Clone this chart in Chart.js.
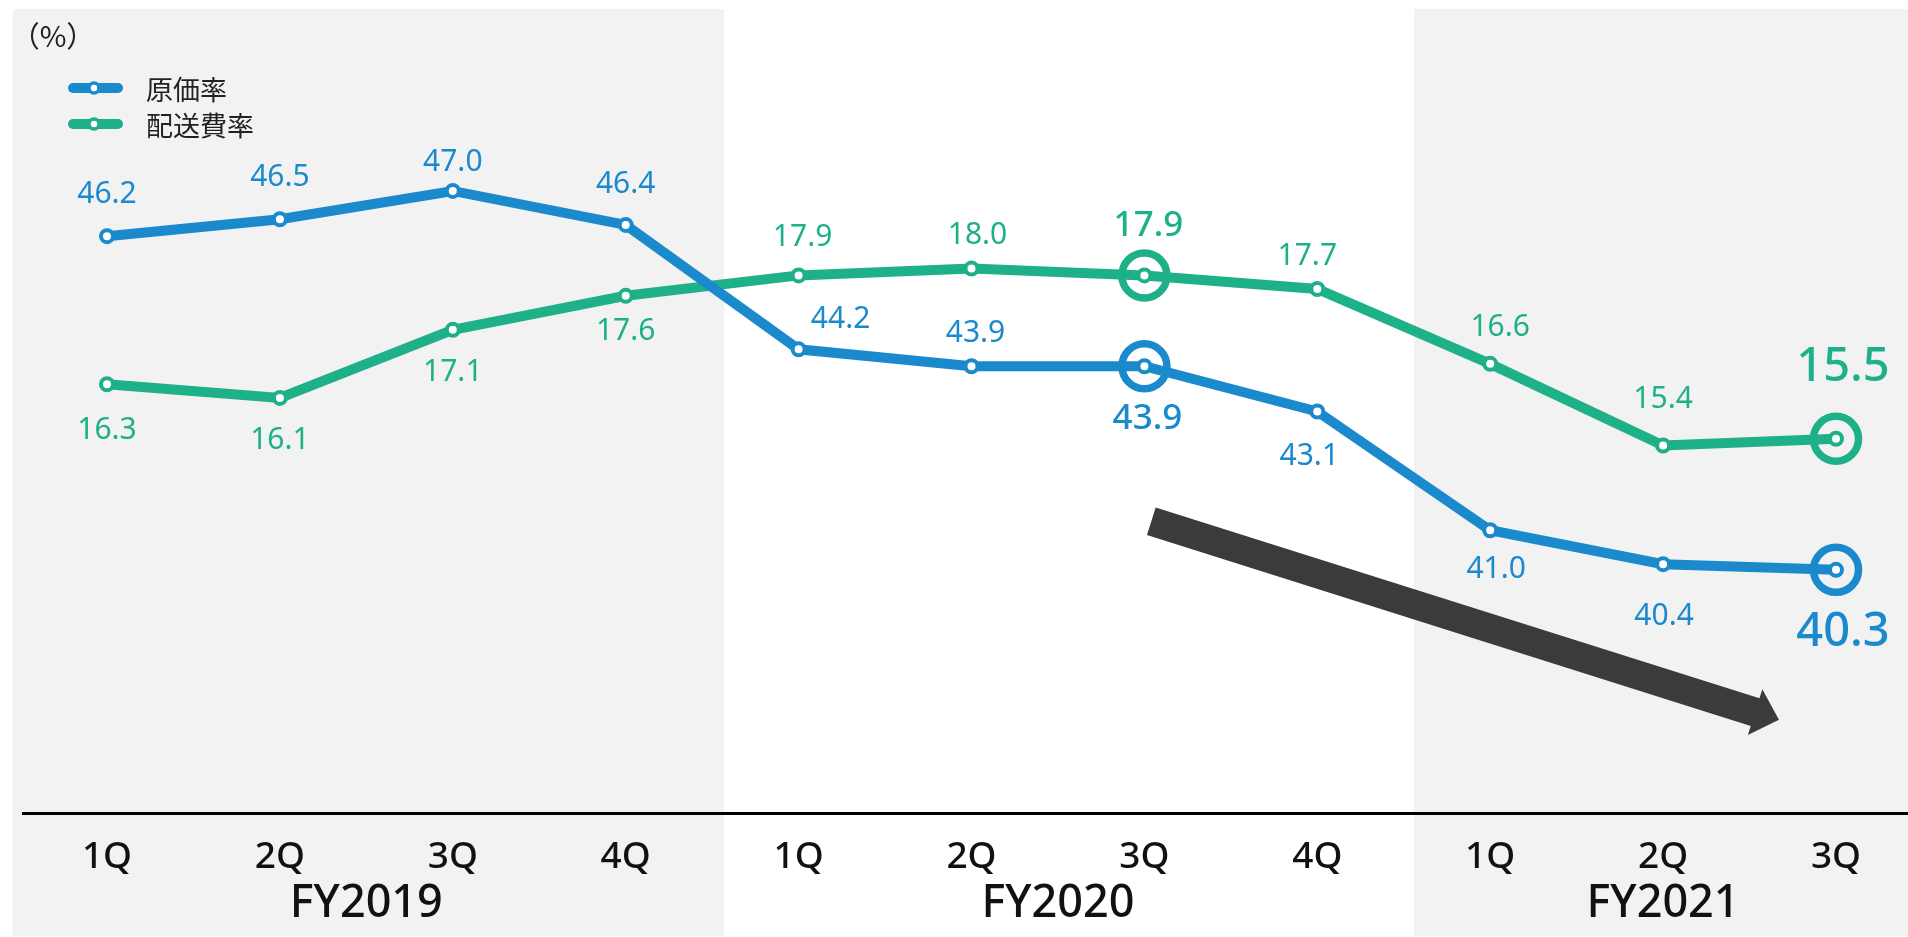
<!DOCTYPE html>
<html lang="ja">
<head>
<meta charset="utf-8">
<title>原価率・配送費率の推移</title>
<script src="https://cdn.jsdelivr.net/npm/chart.js@4.4.1/dist/chart.umd.min.js"></script>
<style>
  html, body { margin: 0; padding: 0; background: #fff; }
  #wrap { width: 1908px; height: 937px; }
  canvas { display: block; }
</style>
</head>
<body>
<div id="wrap"><canvas id="ratio-chart" width="1908" height="937"></canvas></div>
<script>
// 四半期ラベル
const quarters = ['1Q', '2Q', '3Q', '4Q', '1Q', '2Q', '3Q', '4Q', '1Q', '2Q', '3Q'];
// 会計年度と、その年度に含まれる四半期の範囲
const fiscalYears = ['FY2019', 'FY2020', 'FY2021'];
const fiscalYearFirst = [0, 4, 8];
const fiscalYearLast = [3, 7, 10];
// 原価率 (%)
const costRate = [46.2, 46.5, 47.0, 46.4, 44.2, 43.9, 43.9, 43.1, 41.0, 40.4, 40.3];
// 配送費率 (%)
const shippingRate = [16.3, 16.1, 17.1, 17.6, 17.9, 18.0, 17.9, 17.7, 16.6, 15.4, 15.5];
// 丸で囲んで強調する四半期
const highlightIndex = [6, 10];

// ---- 見た目の設定 ----
const BLUE = 'rgb(27, 138, 204)';
const GREEN = 'rgb(30, 176, 137)';
const TEXT = '#111';
const NUM_FONT = '"Noto Sans", "Open Sans", sans-serif';
const JP_FONT = '"Noto Sans CJK JP", "Noto Sans", sans-serif';

// 数値ラベルの位置（点からのずれ px）と文字サイズ
const costLabelDx = [0, 0, 0, 0, 42, 4, 3, -8, 6, 1, 7];
const costLabelDy = [-42, -42, -29, -40, -30, -33, 53, 45, 39, 52, 63];
const shipLabelDx = [0, 0, 0, 0, 4, 6, 4, -10, 10, 0, 7];
const shipLabelDy = [46, 43, 43, 36, -38, -33, -49, -33, -36, -46, -71];
const labelSize = [30, 30, 30, 30, 30, 30, 35, 30, 30, 30, 47];

// 背景の網掛け（x 軸の値で指定）
const shadedBands = [
  { from: -0.545, to: 3.57 },
  { from: 7.56, to: null }
];

// 下降トレンドの矢印（x 軸の値と原価率軸の値で指定）
const trendArrow = { fromX: 6.04, fromY: 41.16, toX: 9.67, toY: 37.65 };

// 背景の網掛けと横軸の線
const backdropPlugin = {
  id: 'backdrop',
  beforeDraw(chart) {
    const { ctx, chartArea, scales: { x } } = chart;
    ctx.save();
    ctx.fillStyle = '#f2f2f2';
    shadedBands.forEach(b => {
      const left = x.getPixelForValue(b.from);
      const right = b.to === null ? chart.width : x.getPixelForValue(b.to);
      ctx.fillRect(left, 9, right - left, chart.height - 10);
    });
    ctx.strokeStyle = '#000';
    ctx.lineWidth = 3;
    ctx.beginPath();
    ctx.moveTo(22, chartArea.bottom + 0.5);
    ctx.lineTo(chart.width, chartArea.bottom + 0.5);
    ctx.stroke();
    ctx.restore();
  }
};

// 矢印
const arrowPlugin = {
  id: 'trendArrow',
  beforeDatasetsDraw(chart) {
    const { ctx, scales: { x, yCost } } = chart;
    const x0 = x.getPixelForValue(trendArrow.fromX);
    const y0 = yCost.getPixelForValue(trendArrow.fromY);
    const x1 = x.getPixelForValue(trendArrow.toX);
    const y1 = yCost.getPixelForValue(trendArrow.toY);
    const len = Math.hypot(x1 - x0, y1 - y0);
    const ux = (x1 - x0) / len, uy = (y1 - y0) / len;
    const nx = -uy, ny = ux;
    const shaft = 14.5, head = 24, headLen = 25;
    const bx = x1 - ux * headLen, by = y1 - uy * headLen;
    ctx.save();
    ctx.fillStyle = '#3d3b39';
    ctx.beginPath();
    ctx.moveTo(x0 + nx * shaft, y0 + ny * shaft);
    ctx.lineTo(bx + nx * shaft, by + ny * shaft);
    ctx.lineTo(bx + nx * head, by + ny * head);
    ctx.lineTo(x1, y1);
    ctx.lineTo(bx - nx * head, by - ny * head);
    ctx.lineTo(bx - nx * shaft, by - ny * shaft);
    ctx.lineTo(x0 - nx * shaft, y0 - ny * shaft);
    ctx.closePath();
    ctx.fill();
    ctx.restore();
  }
};

// 強調の丸、数値ラベル、凡例、年度ラベル
const annotatePlugin = {
  id: 'annotate',
  afterDatasetsDraw(chart) {
    const { ctx } = chart;
    const series = [
      { meta: chart.getDatasetMeta(0), values: costRate, color: BLUE, dx: costLabelDx, dy: costLabelDy },
      { meta: chart.getDatasetMeta(1), values: shippingRate, color: GREEN, dx: shipLabelDx, dy: shipLabelDy }
    ];
    ctx.save();
    series.forEach(s => {
      // 強調の丸
      highlightIndex.forEach(i => {
        const pt = s.meta.data[i];
        ctx.strokeStyle = s.color;
        ctx.lineWidth = 7.5;
        ctx.beginPath();
        ctx.arc(pt.x, pt.y, 22.5, 0, Math.PI * 2);
        ctx.stroke();
      });
      // 数値ラベル
      ctx.fillStyle = s.color;
      ctx.textAlign = 'center';
      ctx.textBaseline = 'middle';
      s.meta.data.forEach((pt, i) => {
        const weight = highlightIndex.includes(i) ? 500 : 400;
        ctx.font = `${weight} ${labelSize[i]}px ${NUM_FONT}`;
        ctx.fillText(s.values[i].toFixed(1), pt.x + s.dx[i], pt.y + s.dy[i]);
      });
    });
    ctx.restore();
  },
  afterDraw(chart) {
    const { ctx, scales: { x } } = chart;
    ctx.save();
    // 単位
    ctx.fillStyle = '#222';
    ctx.textAlign = 'center';
    ctx.textBaseline = 'middle';
    ctx.font = `400 29px ${JP_FONT}`;
    ctx.fillText('（%）', 53, 36);

    // 凡例
    const legendItems = [
      { text: chart.data.datasets[0].label, color: BLUE, y: 88 },
      { text: chart.data.datasets[1].label, color: GREEN, y: 124 }
    ];
    legendItems.forEach(item => {
      ctx.strokeStyle = item.color;
      ctx.lineCap = 'round';
      ctx.lineWidth = 10;
      ctx.beginPath();
      ctx.moveTo(73, item.y);
      ctx.lineTo(118, item.y);
      ctx.stroke();
      ctx.fillStyle = '#fff';
      ctx.lineWidth = 3.5;
      ctx.beginPath();
      ctx.arc(94, item.y, 5, 0, Math.PI * 2);
      ctx.fill();
      ctx.stroke();
      ctx.fillStyle = '#222';
      ctx.textAlign = 'left';
      ctx.font = `400 27px ${JP_FONT}`;
      ctx.fillText(item.text, 146, item.y + 2);
    });

    // 年度ラベル
    ctx.fillStyle = TEXT;
    ctx.textAlign = 'center';
    ctx.font = `500 45px ${NUM_FONT}`;
    fiscalYears.forEach((fy, i) => {
      const cx = (x.getPixelForValue(fiscalYearFirst[i]) + x.getPixelForValue(fiscalYearLast[i])) / 2;
      ctx.fillText(fy, cx, 904);
    });
    ctx.restore();
  }
};

const ctx = document.getElementById('ratio-chart').getContext('2d');
new Chart(ctx, {
  type: 'line',
  data: {
    labels: quarters,
    datasets: [
      {
        label: '原価率',
        data: costRate,
        yAxisID: 'yCost',
        borderColor: BLUE,
        borderWidth: 10,
        pointRadius: 6,
        pointBorderWidth: 4,
        pointBackgroundColor: '#fff',
        pointBorderColor: BLUE,
        tension: 0,
        clip: false
      },
      {
        label: '配送費率',
        data: shippingRate,
        yAxisID: 'yShip',
        borderColor: GREEN,
        borderWidth: 10,
        pointRadius: 6,
        pointBorderWidth: 4,
        pointBackgroundColor: '#fff',
        pointBorderColor: GREEN,
        tension: 0,
        clip: false
      }
    ]
  },
  options: {
    responsive: false,
    animation: false,
    events: [],
    layout: { padding: { left: 107, right: 72, top: 10, bottom: 35 } },
    scales: {
      x: {
        offset: false,
        grid: { display: false, drawTicks: false },
        border: { display: false },
        ticks: {
          color: TEXT,
          padding: 26,
          maxRotation: 0,
          autoSkip: false,
          font: { family: NUM_FONT, size: 37, weight: 500, lineHeight: 1 }
        }
      },
      yCost: { display: false, min: 36, max: 50.2 },
      yShip: { display: false, min: 10, max: 21.8 }
    },
    plugins: {
      legend: { display: false },
      tooltip: { enabled: false }
    }
  },
  plugins: [backdropPlugin, arrowPlugin, annotatePlugin]
});
</script>
</body>
</html>
